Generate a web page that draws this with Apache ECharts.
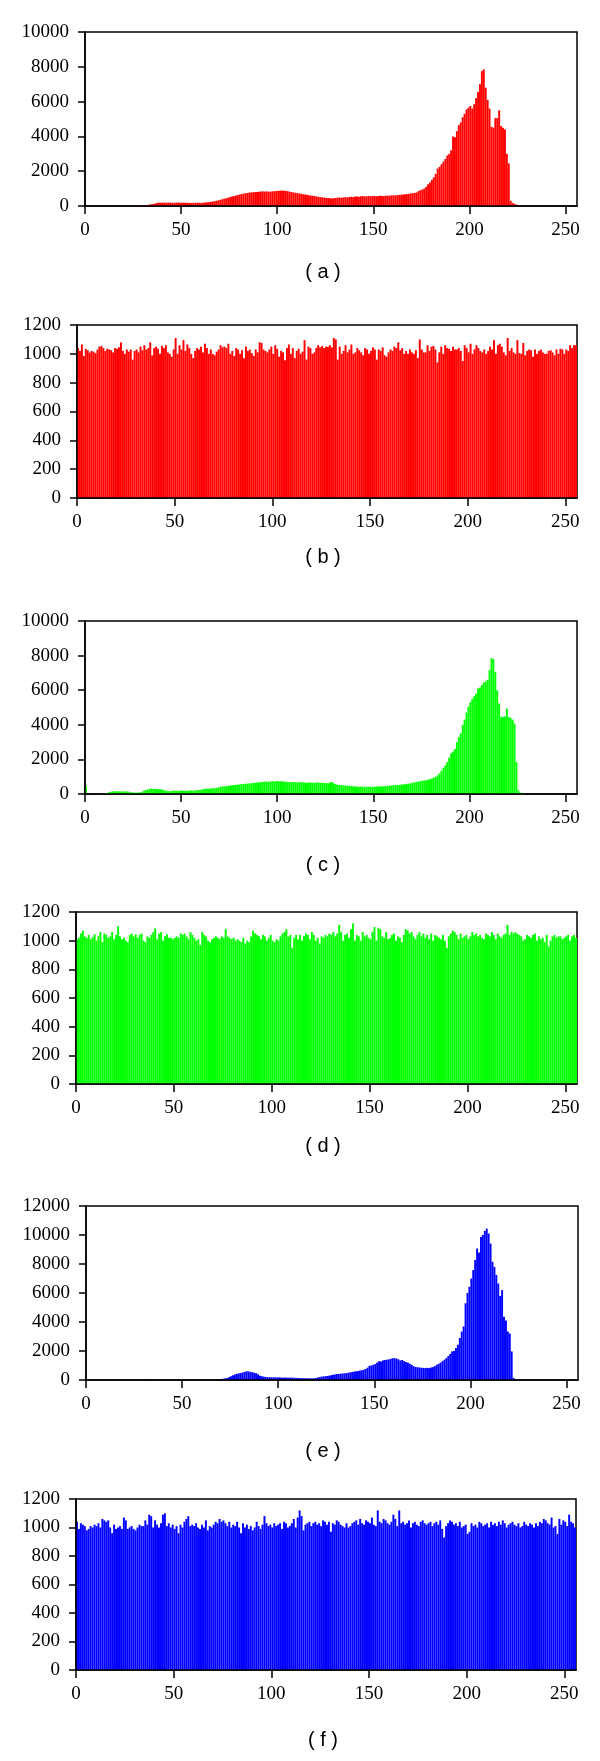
<!DOCTYPE html>
<html>
<head>
<meta charset="utf-8">
<script src="https://cdn.jsdelivr.net/npm/echarts@6/dist/echarts.min.js"></script>
<style>
  html, body { margin: 0; padding: 0; background: #fff; }
  #chart { width: 600px; height: 1761px; }
</style>
</head>
<body>
<div id="chart"></div>
<script>
// histogram bins 0..255
const redA = [
  0,0,0,0,0,0,0,0,0,0,0,0,0,0,0,0,0,0,0,0,0,0,0,0,0,0,0,
  20,25,30,40,50,60,80,100,120,140,
  180,190,185,200,190,195,200,190,185,180,195,200,190,185,180,190,185,180,175,185,180,190,185,180,190,200,210,220,240,260,
  280,300,330,360,390,420,450,480,510,540,570,600,630,660,690,710,730,750,770,780,790,800,810,820,830,840,830,840,830,820,840,850,860,870,
  880,890,880,870,850,820,800,780,760,740,720,700,680,660,640,620,600,590,570,550,530,510,500,480,470,460,440,430,450,460,
  480,490,470,500,510,490,520,530,510,540,550,530,560,570,550,560,580,560,570,580,560,570,590,580,570,590,600,590,610,620,600,630,640,650,660,670,680,700,720,740,
  750,780,850,900,950,1000,1100,1250,1350,1500,1650,1850,2150,2250,2400,2550,2700,2900,3000,3200,
  4000,3950,4300,4650,4800,5100,5300,5550,5650,5750,5600,5850,6200,6550,7000,7750,7850,6800,6100,5600,
  4550,4500,5050,5050,5500,4600,4500,4400,3000,2450,300,180,120,80,50,30,15,
  0,0,0,0,0,0,0,0,0,0,0,0,0,0,0,0,0,0,0,0,0,0,0,0,0,0,0,0
];

const redB = [
  1040,1020,1065,985,1035,1025,1010,1020,1015,1005,1030,1050,1055,1040,1020,1035,
  1030,1025,1010,1040,1035,1045,1080,1020,1000,1030,1015,1030,960,1020,1030,1010,
  1050,1025,1060,1030,1040,1080,990,1040,1050,1035,1000,1055,1040,1060,1010,1000,
  980,1030,1110,1000,1060,1030,1095,1020,1065,1040,1000,970,1020,1040,1030,1050,
  1010,1070,1040,1000,1030,1000,990,1015,1030,1060,1045,1050,1040,1070,1000,1020,
  985,1040,1030,1000,1025,970,1050,1020,1030,1005,985,1030,1010,1080,1075,1030,
  1020,1010,1030,1050,1000,1060,1035,980,1020,1010,955,1040,1065,1000,1040,970,
  1020,1035,1000,1015,1095,960,1050,1040,1000,1010,1040,1060,1045,1055,1040,1050,
  1050,1060,1045,1110,1100,960,1050,1000,1020,1060,1010,1030,1065,1000,1010,1040,
  1025,1010,990,1040,1030,1000,1020,1045,1030,960,1030,1020,1045,990,980,1010,
  1030,1020,1050,1040,1080,1025,1040,1000,1020,1000,1030,1010,1000,1025,970,1100,
  1030,1010,1010,1060,1020,1050,1055,1030,940,1010,1050,1000,1060,1040,1035,1020,
  1050,1030,1030,1040,1020,950,1060,1040,1010,1070,1000,1030,1060,1040,1020,1010,
  1030,1000,1020,1050,1030,1095,1000,1060,1070,1050,1010,990,1110,1020,1040,1010,
  1000,1095,1005,1000,1075,990,1020,1030,1025,980,1030,1000,1020,1030,1010,1000,
  1000,1020,1025,1010,990,1030,1000,1035,1030,1000,1030,1020,1060,1040,1060,1060
];

const greenC = [
  450,
  20,15,10,10,10,15,10,15,20,30,
  60,100,130,150,155,160,160,155,150,155,150,140,
  110,90,80,80,85,90,120,
  180,230,260,290,310,300,290,300,280,270,240,210,190,
  170,160,180,200,190,180,190,200,190,180,190,200,210,
  200,210,220,230,250,280,300,310,300,320,340,330,360,390,420,
  430,440,450,470,490,500,520,530,540,560,570,580,590,600,610,620,630,650,660,670,690,700,710,720,700,730,740,720,750,740,
  730,740,720,710,700,690,700,680,690,670,680,690,670,660,650,670,660,650,640,670,660,650,640,650,630,620,660,690,610,560,
  530,520,510,500,490,480,470,460,450,440,430,420,430,420,410,420,430,420,410,420,430,440,430,440,450,460,470,480,490,500,510,520,530,540,560,570,590,600,620,650,
  670,700,720,740,760,780,800,830,850,900,950,1000,1080,1200,1350,1500,1660,1850,2100,2350,
  2450,2600,3000,3300,3500,4000,4300,4700,5050,5300,5500,5650,5800,6100,6150,6300,6450,6500,6600,7160,
  7850,7800,7060,6000,5230,4460,4450,4480,4940,4460,4400,4300,4070,1850,210,80,40,20,10,0,
  0,0,0,0,0,0,0,0,0,0,0,0,0,0,0,0,0,0,0,0,0,0,0,0,0
];

const greenD = [
  1010,1020,1050,1070,1030,1020,1040,1010,1025,1045,1000,1030,1060,990,1050,1040,
  1020,1030,1060,1010,1040,1100,1030,1010,1020,1000,990,1040,1050,1030,1045,1020,
  1040,1050,1000,990,1030,1020,1040,1060,1085,1010,1050,1060,1000,1030,1045,1020,
  1020,1010,1020,1030,1020,1050,1040,1050,1030,1010,1060,1040,1020,1000,1010,970,
  1060,1040,1030,1000,990,1010,1020,1030,1020,1010,1030,1020,1080,1030,1020,1010,
  1020,1000,1010,1000,990,1020,980,1000,990,1030,1070,1050,1040,1030,1010,1040,
  1030,1000,1020,1040,1000,990,1010,1000,1030,1050,1060,1080,1030,1040,950,1020,
  1040,1010,1040,1000,1030,1050,1040,1010,1060,1040,1000,1020,980,1030,1020,1040,
  1030,1050,1040,1060,1030,1050,1110,1060,1000,1040,1050,1020,1080,1120,1000,1040,
  1030,1000,1060,1030,1040,1020,1010,1060,1095,1000,1090,1080,1030,1020,1060,1010,
  1020,1040,1050,1000,1030,1020,990,1040,1080,1070,1050,1060,1030,1010,1040,1060,
  1030,1050,1020,1040,1010,1050,1000,1040,1030,1020,1010,1040,1000,950,1030,1050,
  1070,1060,1040,1010,1050,1020,1030,1040,1010,1030,1060,1040,1050,1030,1040,1020,
  1010,1050,1040,1030,1060,1040,1010,1050,1030,1020,1040,1050,1110,1040,1060,1050,
  1060,1050,1040,1030,1000,1010,1040,1030,1020,1040,1050,1000,1030,1010,1020,990,
  1040,960,1000,1030,1040,1020,1030,1030,1010,1020,1030,1040,1000,1030,1040,1020
];

const blueE = [
  0,0,0,0,0,0,0,0,0,0,0,0,0,0,0,0,0,0,0,0,0,0,0,0,0,0,0,0,0,0,0,0,
  40,20,
  0,0,0,0,0,0,0,0,0,0,0,0,0,0,0,0,0,0,0,0,0,0,0,0,0,0,0,0,0,0,0,0,0,0,0,
  30,60,90,120,140,200,260,320,380,420,460,480,520,560,600,590,560,540,500,470,400,300,260,230,210,200,190,185,180,185,175,180,
  170,160,175,160,155,165,160,150,145,140,130,125,120,115,120,110,115,115,140,170,200,230,250,260,280,300,330,360,380,410,
  420,430,450,460,480,500,530,550,580,600,620,650,680,710,760,850,980,1000,1050,1100,1200,1300,1280,1350,1380,1400,1420,1460,1500,1510,
  1480,1430,1350,1380,1300,1250,1200,1120,1050,950,900,880,860,850,830,820,840,820,860,890,950,1050,1120,1200,1300,1400,1510,1650,1800,1970,
  2000,2200,2430,2900,3340,3690,5290,6000,6430,7000,7580,8270,9070,8800,9870,10000,10280,10440,10100,9410,
  8150,7800,7240,6660,5800,6200,4370,4100,3340,3200,1970,137,50,20,
  0,0,0,0,0,0,0,0,0,0,0,0,0,0,0,0,0,0,0,0,0,0,0,0,0,0,0,0,0,0,0
];

const blueF = [
  1040,990,1030,1020,1010,980,990,1010,1000,1020,1010,1030,1000,1060,1050,1040,
  1050,1000,960,1020,990,1000,1010,990,1070,1050,990,1000,1010,990,980,1000,
  1020,1010,1010,1050,1020,1090,1080,1000,1050,1020,1000,1030,1090,1100,1010,1030,
  1000,1020,990,1010,960,1020,1000,1040,1060,1080,1010,1020,1010,1030,1000,990,
  1020,1000,1050,980,1010,1000,1020,1040,1030,1060,1040,1050,1030,1010,1040,1000,
  1020,1010,1040,1000,960,1030,1000,1020,990,1010,980,1000,1040,1010,990,1020,
  1080,1030,1010,1020,1000,1030,1010,1020,1030,990,1040,1030,1000,1010,1030,1060,
  1000,1070,1120,1080,980,1020,1030,1040,1010,1030,1040,1020,1030,1010,1050,1040,
  1020,1040,970,1030,1020,1050,1040,1020,1010,1000,1030,1000,1010,1030,1040,1050,
  1020,1060,1030,1020,1050,1040,1030,1070,1020,1010,1120,1040,1030,1060,1050,1030,
  1020,1040,1090,1060,1010,1120,1030,1040,1020,1030,1050,1000,1030,1040,1020,1010,
  1040,1050,1030,1020,1030,1040,1010,1030,1040,1020,1050,990,930,1010,1030,1050,
  1040,1020,1030,1010,1040,1000,1010,1020,955,970,1030,1010,1020,1000,1040,1030,
  1010,1020,1030,1000,1040,1020,1030,1010,1040,1020,1050,1030,1000,1020,1030,1040,
  1020,1010,1030,1000,1010,1040,1020,1010,1030,1020,1000,1030,1010,1040,1030,1060,
  1050,1030,1020,1070,1000,1010,955,1060,1020,1050,1040,1010,1090,1040,1030,1000
];

const xTicks = [0, 50, 100, 150, 200, 250];
const captions = ["( a )", "( b )", "( c )", "( d )", "( e )", "( f )"];

// layout of the six stacked panels
const panels = [
  { data: redA,   color: "#ff0000", yMax: 10000, yStep: 2000, left: 85, top: 32,   width: 492, height: 174, capY: 272 },
  { data: redB,   color: "#ff0000", yMax: 1200,  yStep: 200,  left: 77, top: 325,  width: 500, height: 173, capY: 557 },
  { data: greenC, color: "#00ff00", yMax: 10000, yStep: 2000, left: 85, top: 621,  width: 492, height: 173, capY: 865 },
  { data: greenD, color: "#00ff00", yMax: 1200,  yStep: 200,  left: 76, top: 912,  width: 501, height: 172, capY: 1146 },
  { data: blueE,  color: "#0000ff", yMax: 12000, yStep: 2000, left: 86, top: 1206, width: 492, height: 174, capY: 1451 },
  { data: blueF,  color: "#0000ff", yMax: 1200,  yStep: 200,  left: 76, top: 1499, width: 500, height: 171, capY: 1740 },
];

const serif = "'Liberation Serif', 'DejaVu Serif', serif";
const black = { color: "#000", width: 1.5 };

function histSeries(idx, values, color) {
  return {
    type: "custom",
    xAxisIndex: idx,
    yAxisIndex: idx,
    clip: true,
    silent: true,
    data: values.map((v, i) => [i, v]),
    renderItem: function (params, api) {
      const i = api.value(0);
      const top = api.coord([i, api.value(1)]);
      const base = api.coord([i + 1, 0]);
      return {
        type: "rect",
        shape: { x: top[0], y: top[1], width: base[0] - top[0], height: base[1] - top[1] },
        style: { fill: color },
      };
    },
  };
}

const myChart = echarts.init(document.getElementById("chart"), null, { renderer: "canvas" });

const option = {
  animation: false,
  backgroundColor: "#fff",
  grid: panels.map((p) => ({
    left: p.left,
    top: p.top,
    width: p.width,
    height: p.height,
    show: true,
    borderColor: "#000",
    borderWidth: 1.5,
    backgroundColor: "transparent",
  })),
  xAxis: panels.map((p, idx) => ({
    type: "value",
    gridIndex: idx,
    min: 0,
    max: 256,
    interval: 50,
    z: 5,
    axisLine: { show: true, lineStyle: black },
    axisTick: { show: true, inside: false, length: 8, lineStyle: black, customValues: xTicks },
    axisLabel: { customValues: xTicks, margin: 15, color: "#000", fontFamily: serif, fontSize: 19 },
    splitLine: { show: false },
  })),
  yAxis: panels.map((p, idx) => ({
    type: "value",
    gridIndex: idx,
    min: 0,
    max: p.yMax,
    interval: p.yStep,
    z: 5,
    axisLine: { show: true, lineStyle: black },
    axisTick: { show: true, inside: false, length: 7, lineStyle: black },
    axisLabel: {
      margin: 16,
      color: "#000",
      fontFamily: serif,
      fontSize: 19,
      formatter: (v) => String(v),
    },
    splitLine: { show: false },
  })),
  graphic: panels.map((p, idx) => ({
    type: "text",
    x: 323,
    y: p.capY,
    style: {
      text: captions[idx],
      fill: "#000",
      font: "20px 'Liberation Sans', Arial, sans-serif",
      textAlign: "center",
      textVerticalAlign: "middle",
    },
  })),
  series: panels.map((p, idx) => histSeries(idx, p.data, p.color)),
};

myChart.setOption(option);

window.addEventListener("resize", function () {
  myChart.resize();
});
</script>
</body>
</html>
